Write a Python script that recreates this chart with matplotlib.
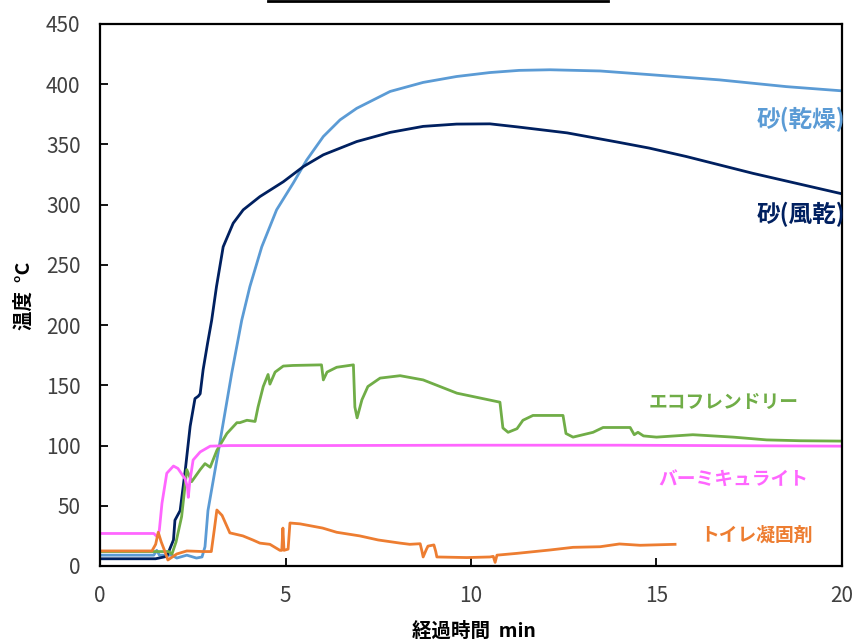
import matplotlib
matplotlib.use("Agg")
import matplotlib.pyplot as plt
from matplotlib.lines import Line2D

JP = 'Noto Sans CJK JP'
plt.rcParams['font.family'] = [JP, 'DejaVu Sans']

# ---- data ----
sand_air_x = [0, 1.5, 1.8, 1.98, 2.02, 2.16, 2.3, 2.43, 2.56, 2.65, 2.7, 2.78, 2.9, 3.01, 3.14,
              3.32, 3.59, 3.86, 4.31, 4.94, 5.48, 6.02, 6.92, 7.82, 8.71, 9.61, 10.51, 11.24,
              12.59, 13.94, 14.8, 15.8, 17.6, 20]
sand_air_y = [6, 6, 8, 21.6, 38, 46, 80, 116, 139, 141, 143, 163, 185, 204, 232,
              265, 284.6, 295.7, 306.7, 319, 331.6, 341.4, 352.4, 360, 365, 366.9, 367.1, 364.6,
              359.6, 352, 347, 340, 326, 309]

sand_dry_x = [0, 1.45, 1.53, 1.6, 1.94, 2.07, 2.34, 2.6, 2.75, 2.83, 2.91, 3.2, 3.55, 3.82, 4.04,
              4.36, 4.76, 5.21, 5.57, 6.02, 6.47, 6.92, 7.82, 8.71, 9.61, 10.51, 11.3, 12.13,
              13.48, 14.8, 16.7, 18.5, 20]
sand_dry_y = [9, 9, 13, 9, 9, 6.6, 9, 6.6, 7.5, 16, 46, 97, 160, 204, 232,
              265, 295.7, 318, 337, 356.6, 370.4, 380, 394, 401.5, 406.4, 409.7, 411.5, 412,
              411, 408, 403.6, 398, 394.5]

eco_x = [0, 1.85, 1.94, 2.05, 2.2, 2.34, 2.47, 2.7, 2.83, 2.97, 3.15, 3.42, 3.69, 3.77, 3.96, 4.18,
         4.26, 4.4, 4.53, 4.58, 4.72, 4.94, 5.2, 5.97, 6.02, 6.12, 6.38, 6.83, 6.87, 6.93, 7.06,
         7.22, 7.55, 8.09, 8.71, 9.62, 10.78, 10.86, 11.0, 11.24, 11.4, 11.67, 12.48, 12.56, 12.75,
         13.29, 13.56, 14.29, 14.4, 14.5, 14.65, 15.0, 15.98, 17.07, 17.97, 18.87, 20]
eco_y = [12, 12, 10, 20, 41, 80, 70, 80, 85, 82, 96, 110, 119, 119, 121, 120,
         132, 149, 159, 151, 161, 166, 166.5, 167, 154.5, 161, 165, 167, 132, 123, 138,
         149, 156, 158, 154.5, 143.5, 136, 114.6, 111, 114, 121, 125, 125, 110, 107,
         111, 115, 115, 109, 111, 108, 107, 109, 107, 104.7, 104, 103.7]

verm_x = [0, 1.45, 1.55, 1.6, 1.67, 1.8, 1.98, 2.1, 2.3, 2.36, 2.38, 2.42, 2.51, 2.7, 2.97, 3.5,
          6, 10, 14, 20]
verm_y = [27, 27, 24, 30, 52, 77, 83, 81, 72, 65, 57, 70, 88, 94.7, 99.5, 100,
          100, 100.3, 100.3, 99.5]

toilet_x = [0, 1.4, 1.5, 1.57, 1.65, 1.75, 1.83, 2.07, 2.34, 2.78, 3.0, 3.08, 3.15, 3.29, 3.5,
            3.85, 4.12, 4.31, 4.58, 4.85, 4.9, 4.93, 4.96, 5.07, 5.12, 5.39, 6.0, 6.38, 7.0, 7.5,
            8.09, 8.35, 8.63, 8.68, 8.71, 8.8, 8.84, 9.0, 9.05, 9.08, 9.89, 10.51, 10.6, 10.65,
            10.7, 11.24, 12.13, 12.75, 13.48, 14.0, 14.56, 15.5]
toilet_y = [12.5, 12.5, 18, 28, 20, 12, 5, 10, 12.5, 12, 12, 30, 46.5, 42, 27.5,
            25, 21.6, 19, 18, 13, 13, 31.5, 13, 14, 35.7, 35, 31.5, 28, 25, 21.6,
            19, 18, 18.5, 12, 7.5, 14, 16.5, 17.5, 12, 7.5, 7, 7.5, 8, 3,
            9, 10.5, 13.3, 15.5, 16, 18.3, 17.2, 18]

series = [
    ('砂(乾燥)', sand_dry_x, sand_dry_y, '#5B9BD5', 1.005, 0.823, 17),
    ('砂(風乾)', sand_air_x, sand_air_y, '#002060', 1.005, 0.648, 17),
    ('エコフレンドリー', eco_x, eco_y, '#70AD47', 0.941, 0.301, 13.5),
    ('バーミキュライト', verm_x, verm_y, '#FF66FF', 0.954, 0.159, 13.5),
    ('トイレ凝固剤', toilet_x, toilet_y, '#ED7D31', 0.961, 0.057, 13.5),
]

xticks = [0, 5, 10, 15, 20]
yticks = [0, 50, 100, 150, 200, 250, 300, 350, 400, 450]

fig = plt.figure(figsize=(8.56, 6.41), dpi=100)
ax = fig.add_axes([100/856, 1-566/641, 742/856, 542/641])

for name, xs, ys, c, tx, ty, fs in series:
    ax.plot(xs, ys, color=c, lw=2.0, solid_joinstyle='round')
    ax.text(tx, ty, name, transform=ax.transAxes, ha='right', va='center',
            color=c, fontsize=fs, fontweight='bold')

ax.set_xlim(0, 20)
ax.set_ylim(0, 450)
ax.set_xticks(xticks)
ax.set_yticks(yticks)
for s in ax.spines.values():
    s.set_linewidth(1.6)
    s.set_color('black')
ax.tick_params(direction='in', length=6, width=1.3, labelsize=15, colors='black',
               labelcolor='#404040')
ax.tick_params(axis='x', pad=14)
ax.tick_params(axis='y', pad=14)

ax.text(0.504, -0.12, '経過時間  min', transform=ax.transAxes, ha='center', va='center',
        fontsize=14, fontweight='bold')
ax.text(-0.102, 0.498, '温度  °C', transform=ax.transAxes, ha='center', va='center',
        fontsize=14, fontweight='bold', rotation=90)

fig.add_artist(Line2D([268/856, 608/856], [0.999, 0.999], transform=fig.transFigure,
                      color='black', lw=2))

fig.savefig('out.png', dpi=100)
